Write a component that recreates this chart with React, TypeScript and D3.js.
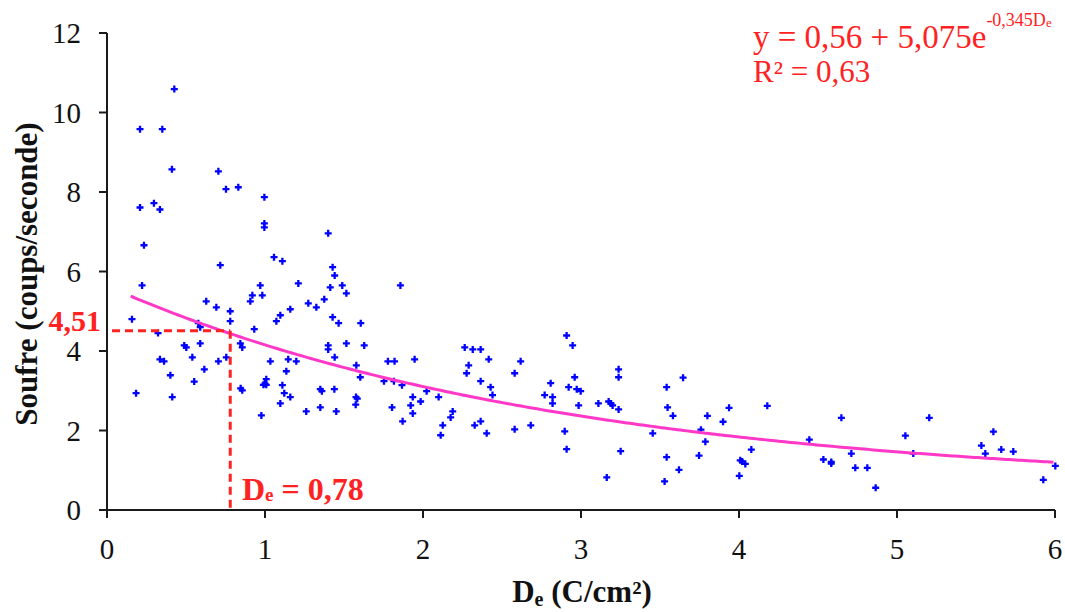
import React from "react";
import * as d3 from "d3";

// Data: De (C/cm²) and Soufre (coups/seconde)
const deValues: number[] = [
  0.426, 0.209, 0.35, 0.411, 0.705, 0.753, 0.831, 0.996, 0.209, 0.297, 0.335,
  0.996, 0.996, 1.4, 0.234, 1.057, 1.11, 0.717, 1.428, 1.441, 1.211, 0.222, 0.97, 1.489,
  1.413, 0.92, 0.983, 1.515, 0.907, 0.628, 1.375, 1.274, 1.325, 0.692, 1.16, 0.78,
  1.097, 0.158, 1.072, 0.78, 1.428, 1.466, 1.606, 0.578, 0.59, 0.932, 0.323, 1.515,
  1.628, 1.4, 1.4, 0.59, 0.844, 0.856, 0.489, 0.502, 1.441, 0.54, 0.755, 0.335, 0.361,
  1.034, 1.147, 1.198, 0.705, 1.578, 0.616, 1.135, 0.401, 1.603, 1.008,
  0.552, 0.184, 0.413, 0.846, 0.856, 0.99, 1.0, 1.008, 1.11, 1.122, 1.16, 1.097,
  1.35, 1.36, 1.439, 1.576, 1.584, 1.574, 1.35, 1.451, 1.261, 0.977,
  1.857, 2.909, 2.947, 2.264, 2.315, 2.365, 1.778, 1.82, 1.947, 2.416, 2.618, 2.289,
  3.238, 3.238, 2.276, 2.58, 2.96, 1.753, 1.816, 2.365, 2.808, 1.867, 2.428, 2.922,
  2.973, 2.998, 3.542, 2.023, 2.44, 2.77, 1.935, 2.099, 2.82, 1.985, 3.175, 3.19, 3.2,
  2.82, 3.11, 1.922, 1.804, 2.985, 3.548, 3.238, 2.188, 1.935, 2.175, 1.871, 2.365,
  2.125, 2.327, 2.682, 2.58, 2.897, 2.403, 3.454, 2.112, 2.909, 3.251, 3.542, 3.163,
  3.529,
  3.646, 3.582, 3.62, 3.759, 3.8, 3.787, 3.747, 3.899, 3.937, 4.078, 4.008, 4.02, 4.04,
  4.002, 4.179, 4.445, 4.534, 4.584, 4.584, 4.648, 4.711, 4.736, 4.812, 4.865, 5.053,
  5.103, 5.204, 5.534, 5.559, 5.61, 5.66, 5.736, 5.926, 6.002,
];
const soufreValues: number[] = [
  10.59, 9.58, 9.58, 8.57, 8.52, 8.07, 8.12, 7.87, 7.61, 7.72, 7.56,
  7.21, 7.11, 6.96, 6.66, 6.36, 6.26, 6.16, 6.11, 5.9, 5.7, 5.65, 5.65, 5.65,
  5.6, 5.4, 5.4, 5.45, 5.25, 5.25, 5.3, 5.2, 5.1, 5.1, 5.05, 5.0,
  4.9, 4.8, 4.75, 4.75, 4.85, 4.7, 4.7, 4.7, 4.6, 4.55, 4.45, 4.19,
  4.14, 4.14, 4.04, 4.19, 4.19, 4.09, 4.14, 4.09, 3.84, 3.84, 3.84, 3.79, 3.74,
  3.74, 3.79, 3.74, 3.74, 3.64, 3.54, 3.49, 3.39, 3.34, 3.29,
  3.23, 2.94, 2.84, 3.06, 3.01, 3.15, 3.18, 3.15, 3.14, 2.94, 2.84, 2.68,
  3.04, 2.99, 3.04, 2.84, 2.8, 2.65, 2.58, 2.48, 2.48, 2.38,
  5.65, 4.39, 4.14, 4.09, 4.04, 4.04, 3.74, 3.74, 3.79, 3.79, 3.74, 3.64,
  3.54, 3.34, 3.44, 3.44, 3.34, 3.24, 3.24, 3.24, 3.19, 3.14, 3.09, 3.09,
  3.04, 2.99, 3.09, 2.99, 2.89, 2.89, 2.84, 2.84, 2.84, 2.73, 2.73, 2.68, 2.63,
  2.68, 2.68, 2.63, 2.58, 2.63, 2.58, 2.53, 2.48, 2.43, 2.33, 2.23, 2.23,
  2.13, 2.13, 2.13, 2.03, 1.98, 1.93, 1.93, 1.88, 1.53, 1.48, 1.33, 0.82,
  0.72,
  3.33, 2.37, 1.01, 2.02, 2.37, 1.72, 1.37, 2.22, 2.57, 1.52, 1.25, 1.22, 1.16,
  0.86, 2.62, 1.77, 1.27, 1.21, 1.17, 2.32, 1.42, 1.06, 1.06, 0.56, 1.87,
  1.42, 2.32, 1.62, 1.42, 1.97, 1.52, 1.47, 0.76, 1.11,
];

const xTicks: number[] = [0, 1, 2, 3, 4, 5, 6];
const yTicks: number[] = [0, 2, 4, 6, 8, 10, 12];

// Fit: y = a + b * exp(c * De)
const fitA = 0.56;
const fitB = 5.075;
const fitC = -0.345;
const fitRange: number[] = [0.15, 6];
const markedDe = 0.78;
const markedSoufre = 4.51;

export default function App() {
  const width = 1065;
  const height = 612;
  const x = d3.scaleLinear().domain([0, 6]).range([107, 1055]);
  const y = d3.scaleLinear().domain([0, 12]).range([510, 33]);

  const fitPts = d3.range(fitRange[0], fitRange[1] + 0.0001, 0.02).map((d) => [d, fitA + fitB * Math.exp(fitC * d)] as [number, number]);
  const line = d3.line<[number, number]>().x((d) => x(d[0])).y((d) => y(d[1]));

  const ff = { fontFamily: "'Liberation Serif', 'DejaVu Serif', serif" };
  const axisColor = "#1a1a1a";
  const red = "#ff2222";

  return (
    <svg width={width} height={height} style={{ position: "absolute", left: 0, top: 0, background: "#fff" }}>
      {/* axes */}
      <line x1={x(0)} x2={x(0)} y1={y(12)} y2={y(0)} stroke={axisColor} strokeWidth={2} />
      <line x1={x(0)} x2={x(6)} y1={y(0)} y2={y(0)} stroke={axisColor} strokeWidth={2} />
      {yTicks.map((t) => (
        <g key={"y" + t}>
          <line x1={x(0) - 8} x2={x(0)} y1={y(t)} y2={y(t)} stroke={axisColor} strokeWidth={2} />
          <text x={81} y={y(t)} dy="0.35em" textAnchor="end" fontSize={29} fill="#111" style={ff}>{t}</text>
        </g>
      ))}
      {xTicks.map((t) => (
        <g key={"x" + t}>
          <line x1={x(t)} x2={x(t)} y1={y(0)} y2={y(0) + 8} stroke={axisColor} strokeWidth={2} />
          <text x={x(t)} y={559} textAnchor="middle" fontSize={29} fill="#111" style={ff}>{t}</text>
        </g>
      ))}

      {/* axis titles */}
      <text transform={`translate(37,274) rotate(-90)`} textAnchor="middle" fontSize={31} fontWeight="bold" fill="#111" style={ff}>
        Soufre (coups/seconde)
      </text>
      <text x={582} y={602} textAnchor="middle" fontSize={31} fontWeight="bold" fill="#111" style={ff}>
        D<tspan fontSize={20} dy={4}>e</tspan><tspan dy={-4}> (C/cm²)</tspan>
      </text>

      {/* points */}
      {deValues.map((d, i) => (
        <path key={i} d={`M${x(d) - 3.5},${y(soufreValues[i])}h7M${x(d)},${y(soufreValues[i]) - 3.5}v7`} stroke="#0000ff" strokeWidth={2.3} fill="none" />
      ))}

      {/* fit curve */}
      <path d={line(fitPts) || ""} fill="none" stroke="#ff38c8" strokeWidth={3} />

      {/* dashed markers */}
      <line x1={x(0) + 5} x2={x(markedDe)} y1={y(markedSoufre)} y2={y(markedSoufre)} stroke={red} strokeWidth={3} strokeDasharray="8,5" />
      <line x1={x(markedDe)} x2={x(markedDe)} y1={y(markedSoufre)} y2={y(0)} stroke={red} strokeWidth={3} strokeDasharray="8,5" />
      <text x={101} y={y(markedSoufre)} dy="0.02em" textAnchor="end" fontSize={30} fontWeight="bold" fill={red} style={ff}>4,51</text>
      <text x={242} y={500} fontSize={32} fontWeight="bold" fill={red} style={ff}>
        D<tspan fontSize={19} dy={1}>e</tspan><tspan dy={-1}> = 0,78</tspan>
      </text>

      {/* equation */}
      <text x={753} y={48} fontSize={33} fill={red} style={ff}>
        y = 0,56 + 5,075e<tspan fontSize={18} dy={-22}>-0,345D</tspan><tspan fontSize={13} dy={1}>e</tspan>
      </text>
      <text x={753} y={82} fontSize={31} fill={red} style={ff}>R² = 0,63</text>
    </svg>
  );
}
